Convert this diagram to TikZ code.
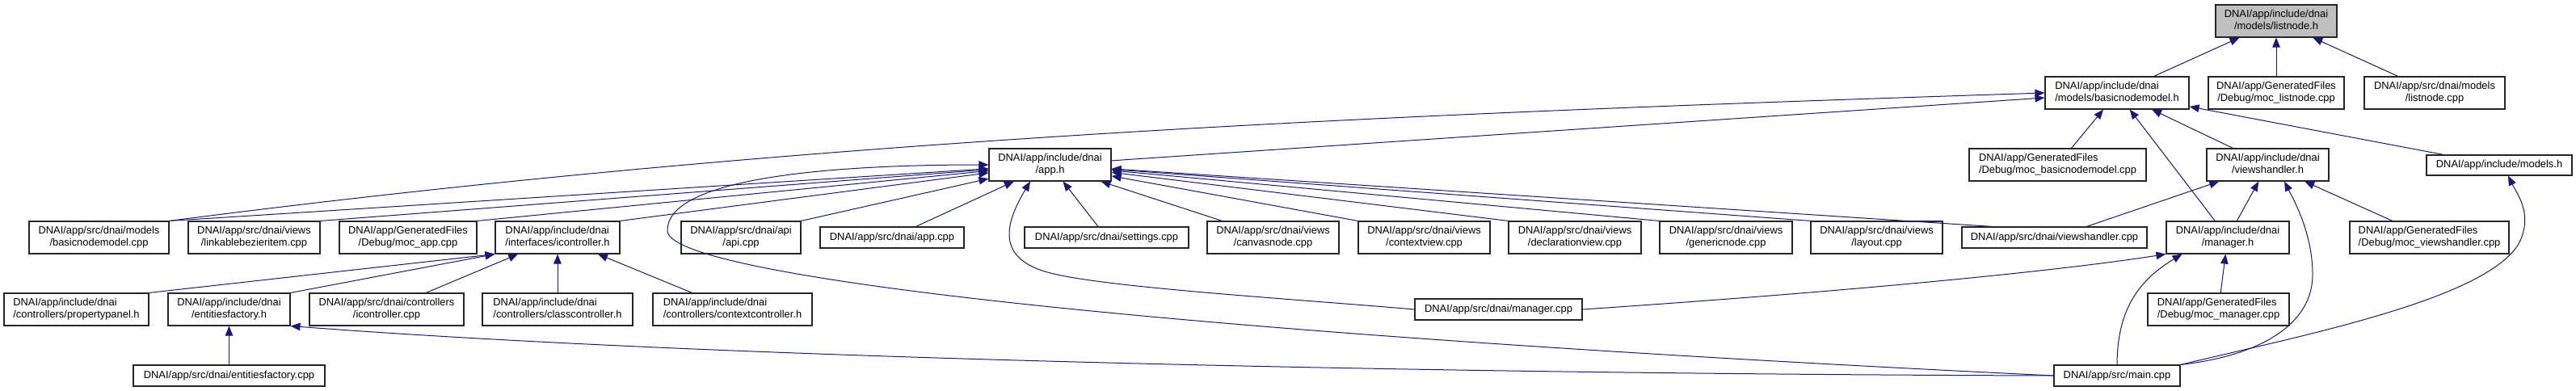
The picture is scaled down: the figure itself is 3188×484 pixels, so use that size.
\documentclass[tikz,border=0pt]{standalone}
\usepackage{fontspec}
\setmainfont{Liberation Sans}
\usetikzlibrary{arrows.meta}
\definecolor{edgeblue}{HTML}{191970}
\definecolor{curgray}{HTML}{BFBFBF}
\definecolor{frame}{HTML}{262626}
\newcommand{\flab}[2]{\begin{tabular}{@{}l@{}}#1\\\multicolumn{1}{@{}c@{}}{#2}\end{tabular}}
\tikzset{
  fnode/.style={draw=frame, line width=1.1bp, fill=white, inner sep=0pt,
    minimum height=40bp, text=black},
  fline/.style={fnode, minimum height=26bp},
  fcur/.style={fill=curgray},
  inc/.style={draw=edgeblue, line width=1bp, -{Triangle[length=12bp,width=9.5bp]}},
}

\begin{document}
\begin{tikzpicture}[x=1bp, y=-1bp, font=\fontsize{12.9bp}{14.5bp}\selectfont]
  \useasboundingbox (0,0) rectangle (3188,484);
  % row 1
  \node[fnode, fcur, minimum width=150bp] (listnodeh) at (2817,26) {\flab{DNAI/app/include/dnai}{/models/listnode.h}};
  % row 2
  \node[fnode, minimum width=178bp] (basicnodemodelh) at (2620,115) {\flab{DNAI/app/include/dnai}{/models/basicnodemodel.h}};
  \node[fnode, minimum width=168bp] (moclistnode) at (2817,115) {\flab{DNAI/app/GeneratedFiles}{/Debug/moc\_listnode.cpp}};
  \node[fnode, minimum width=174bp] (listnodecpp) at (3013,115) {\flab{DNAI/app/src/dnai/models}{/listnode.cpp}};
  % row 3
  \node[fnode, minimum width=151bp] (apph) at (1299.5,204) {\flab{DNAI/app/include/dnai}{/app.h}};
  \node[fnode, minimum width=219bp] (mocbasic) at (2546.5,204) {\flab{DNAI/app/GeneratedFiles}{/Debug/moc\_basicnodemodel.cpp}};
  \node[fnode, minimum width=151bp] (viewshandlerh) at (2806.5,204) {\flab{DNAI/app/include/dnai}{/viewshandler.h}};
  \node[fline, minimum width=180bp, minimum height=25bp] (modelsh) at (3093,204.5) {DNAI/app/include/models.h};
  % row 4
  \node[fnode, minimum width=173bp] (basicnodemodelcpp) at (122.5,294) {\flab{DNAI/app/src/dnai/models}{/basicnodemodel.cpp}};
  \node[fnode, minimum width=163bp] (linkable) at (314.5,294) {\flab{DNAI/app/src/dnai/views}{/linkablebezieritem.cpp}};
  \node[fnode, minimum width=170bp] (mocapp) at (505,294) {\flab{DNAI/app/GeneratedFiles}{/Debug/moc\_app.cpp}};
  \node[fnode, minimum width=154bp] (icontrollerh) at (690,294) {\flab{DNAI/app/include/dnai}{/interfaces/icontroller.h}};
  \node[fnode, minimum width=148bp] (apicpp) at (917,294) {\flab{DNAI/app/src/dnai/api}{/api.cpp}};
  \node[fline, minimum width=178bp] (appcpp) at (1104,294) {DNAI/app/src/dnai/app.cpp};
  \node[fline, minimum width=203bp] (settingscpp) at (1369.5,294) {DNAI/app/src/dnai/settings.cpp};
  \node[fnode, minimum width=163bp] (canvasnode) at (1575.5,294) {\flab{DNAI/app/src/dnai/views}{/canvasnode.cpp}};
  \node[fnode, minimum width=163bp] (contextview) at (1762.5,294) {\flab{DNAI/app/src/dnai/views}{/contextview.cpp}};
  \node[fnode, minimum width=164bp] (declview) at (1949,294) {\flab{DNAI/app/src/dnai/views}{/declarationview.cpp}};
  \node[fnode, minimum width=164bp] (genericnode) at (2136,294) {\flab{DNAI/app/src/dnai/views}{/genericnode.cpp}};
  \node[fnode, minimum width=163bp] (layoutcpp) at (2322.5,294) {\flab{DNAI/app/src/dnai/views}{/layout.cpp}};
  \node[fline, minimum width=229bp] (viewshandlercpp) at (2542.5,294) {DNAI/app/src/dnai/viewshandler.cpp};
  \node[fnode, minimum width=152bp] (managerh) at (2757,294) {\flab{DNAI/app/include/dnai}{/manager.h}};
  \node[fnode, minimum width=197bp] (mocviews) at (3006.5,294) {\flab{DNAI/app/GeneratedFiles}{/Debug/moc\_viewshandler.cpp}};
  % row 5
  \node[fnode, minimum width=179bp] (propertypanel) at (94.5,383) {\flab{DNAI/app/include/dnai}{/controllers/propertypanel.h}};
  \node[fnode, minimum width=151bp] (entitiesh) at (283.5,383) {\flab{DNAI/app/include/dnai}{/entitiesfactory.h}};
  \node[fnode, minimum width=191bp] (icontrollercpp) at (478.5,383) {\flab{DNAI/app/src/dnai/controllers}{/icontroller.cpp}};
  \node[fnode, minimum width=186bp] (classctrl) at (690,383) {\flab{DNAI/app/include/dnai}{/controllers/classcontroller.h}};
  \node[fnode, minimum width=197bp] (contextctrl) at (906.5,383) {\flab{DNAI/app/include/dnai}{/controllers/contextcontroller.h}};
  \node[fline, minimum width=207bp] (managercpp) at (1854.5,383) {DNAI/app/src/dnai/manager.cpp};
  \node[fnode, minimum width=175bp] (mocmanager) at (2745.5,383) {\flab{DNAI/app/GeneratedFiles}{/Debug/moc\_manager.cpp}};
  % row 6
  \node[fline, minimum width=237bp] (entitiescpp) at (283.5,465) {DNAI/app/src/dnai/entitiesfactory.cpp};
  \node[fline, minimum width=156bp] (maincpp) at (2620,465) {DNAI/app/src/main.cpp};

  % listnode.h
  \draw[inc] (basicnodemodelh) -- (listnodeh);
  \draw[inc] (moclistnode) -- (listnodeh);
  \draw[inc] (listnodecpp) -- (listnodeh);
  % basicnodemodel.h
  \draw[inc] (apph) -- (basicnodemodelh);
  \draw[inc] (basicnodemodelcpp.north east) .. controls (1009,170) and (1731,141) .. (basicnodemodelh.west);
  \draw[inc] (mocbasic) -- (basicnodemodelh);
  \draw[inc] (managerh) -- (basicnodemodelh);
  \draw[inc] (viewshandlerh) -- (basicnodemodelh);
  \draw[inc] (modelsh) -- (basicnodemodelh);
  % app.h
  \draw[inc] (basicnodemodelcpp.north east) -- (apph);
  \draw[inc] (linkable.north east) -- (apph);
  \draw[inc] (mocapp.north east) -- (apph);
  \draw[inc] (icontrollerh.north east) -- (apph);
  \draw[inc] (apicpp.north east) -- (apph);
  \draw[inc] (appcpp) -- (apph);
  \draw[inc] (settingscpp) -- (apph);
  \draw[inc] (canvasnode) -- (apph);
  \draw[inc] (contextview.north west) -- (apph);
  \draw[inc] (declview.north west) -- (apph);
  \draw[inc] (genericnode.north west) -- (apph);
  \draw[inc] (layoutcpp.north west) -- (apph);
  \draw[inc] (viewshandlercpp.170) -- (apph);
  \draw[inc] (managercpp.west) .. controls (1600,370) and (1370,356) .. (1300,338)
    .. controls (1230,320) and (1245,275) .. (apph.220);
  \draw[inc] (maincpp.west) .. controls (1400,410) and (822,340) .. (826,285)
    .. controls (826,225) and (1000,204) .. (apph.west);
  % icontroller.h
  \draw[inc] (propertypanel.north east) -- (icontrollerh.south west);
  \draw[inc] (entitiesh.north east) -- (icontrollerh.south west);
  \draw[inc] (icontrollercpp) -- (icontrollerh);
  \draw[inc] (classctrl) -- (icontrollerh);
  \draw[inc] (contextctrl) -- (icontrollerh);
  % entitiesfactory.h
  \draw[inc] (entitiescpp) -- (entitiesh);
  \draw[inc] (maincpp.west) .. controls (1800,463) and (900,445) .. (entitiesh.south east);
  % viewshandler.h
  \draw[inc] (viewshandlercpp) -- (viewshandlerh);
  \draw[inc] (managerh) -- (viewshandlerh);
  \draw[inc] (mocviews) -- (viewshandlerh);
  \draw[inc] (maincpp.north east) .. controls (2800,440) and (2862,400) .. (2862,340)
    .. controls (2862,290) and (2840,250) .. (viewshandlerh.315);
  % manager.h
  \draw[inc] (managercpp.east) .. controls (2300,360) and (2550,335) .. (managerh.south west);
  \draw[inc] (mocmanager) -- (managerh);
  \draw[inc] (maincpp.north) .. controls (2620,380) and (2650,345) .. (managerh.200);
  % models.h
  \draw[inc] (maincpp.north east) .. controls (2850,415) and (3080,370) .. (3118,300)
    .. controls (3135,265) and (3115,240) .. (modelsh.310);
\end{tikzpicture}
\end{document}
